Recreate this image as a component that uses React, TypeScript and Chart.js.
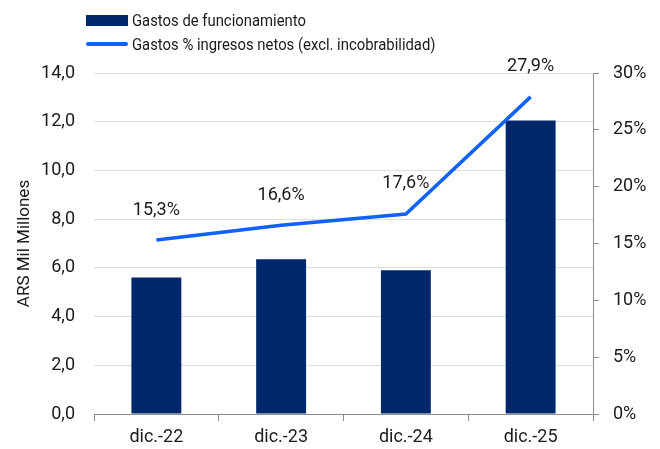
import React, { useEffect, useRef } from "react";
import { Chart, registerables } from "chart.js";

Chart.register(...registerables);

const categories = ["dic.-22", "dic.-23", "dic.-24", "dic.-25"];
const gastosFuncionamiento = [5.6, 6.35, 5.9, 12.05];
const gastosPctIngresos = [15.3, 16.6, 17.6, 27.9];
const barLabel = "Gastos de funcionamiento";
const lineLabel = "Gastos % ingresos netos (excl. incobrabilidad)";
const yTitle = "ARS Mil Millones";

const BAR_COLOR = "#00266b";
const LINE_COLOR = "#0f62fe";
const FONT = "Roboto, 'Liberation Sans', sans-serif";
const TEXT = "#1a1a1a";

const fmt = (v: number, d: number) => v.toFixed(d).replace(".", ",");

const lineLabelsPlugin = {
  id: "lineLabels",
  afterDatasetsDraw(chart: any) {
    const meta = chart.getDatasetMeta(1);
    const ctx = chart.ctx;
    ctx.save();
    ctx.font = `18px ${FONT}`;
    ctx.fillStyle = TEXT;
    ctx.textAlign = "center";
    ctx.textBaseline = "middle";
    meta.data.forEach((pt: any, i: number) => {
      ctx.fillText(fmt(gastosPctIngresos[i], 1) + "%", pt.x, pt.y - 30);
    });
    ctx.restore();
  },
};

export default function App() {
  const ref = useRef<HTMLCanvasElement>(null);
  useEffect(() => {
    const chart = new Chart(ref.current!, {
      type: "bar",
      data: {
        labels: categories,
        datasets: [
          {
            type: "bar",
            label: barLabel,
            data: gastosFuncionamiento,
            backgroundColor: BAR_COLOR,
            yAxisID: "y",
            categoryPercentage: 1,
            barPercentage: 0.4,
            order: 2,
          },
          {
            type: "line",
            label: lineLabel,
            data: gastosPctIngresos,
            borderColor: LINE_COLOR,
            backgroundColor: LINE_COLOR,
            borderWidth: 3.5,
            pointRadius: 0,
            tension: 0,
            yAxisID: "y1",
            order: 1,
          },
        ],
      },
      options: {
        animation: false,
        responsive: true,
        maintainAspectRatio: false,
        layout: { padding: { top: 73, left: 0, right: 0, bottom: 0 } },
        plugins: {
          legend: { display: false },
          tooltip: { enabled: false },
        },
        scales: {
          x: {
            offset: true,
            grid: {
              offset: true,
              drawOnChartArea: false,
              drawTicks: true,
              tickLength: 7,
              color: "#8c8c8c",
            },
            border: { display: true, color: "#8c8c8c" },
            ticks: {
              font: { family: FONT, size: 18 },
              color: TEXT,
              padding: 6,
            },
            afterFit: (s: any) => {
              s.height = 35;
            },
          },
          y: {
            position: "left",
            min: 0,
            max: 14,
            ticks: {
              stepSize: 2,
              font: { family: FONT, size: 18 },
              color: TEXT,
              padding: 19,
              callback: (v: any) => fmt(Number(v), 1),
            },
            grid: { color: "#dedede", drawTicks: false, lineWidth: 1 },
            border: { display: false },
            title: {
              display: true,
              text: yTitle,
              font: { family: FONT, size: 17 },
              color: TEXT,
              padding: { top: 15, bottom: 0 },
            },
            afterFit: (s: any) => {
              s.width = 94;
            },
          },
          y1: {
            position: "right",
            min: 0,
            max: 30,
            ticks: {
              stepSize: 5,
              font: { family: FONT, size: 18 },
              color: TEXT,
              padding: 14,
              callback: (v: any) => `${v}%`,
            },
            grid: {
              drawOnChartArea: false,
              drawTicks: true,
              tickLength: 6,
              color: "#8c8c8c",
            },
            border: { display: true, color: "#8c8c8c" },
            afterFit: (s: any) => {
              s.width = 67;
            },
          },
        },
      },
      plugins: [lineLabelsPlugin],
    });
    return () => chart.destroy();
  }, []);

  const textStyle: React.CSSProperties = {
    display: "inline-block",
    transform: "scaleX(0.9)",
    transformOrigin: "left center",
    whiteSpace: "nowrap",
  };

  return (
    <div
      style={{
        position: "fixed",
        left: 0,
        top: 0,
        width: 660,
        height: 449,
        background: "#fff",
        fontFamily: FONT,
      }}
    >
      <div
        style={{
          position: "absolute",
          left: 86,
          top: 10,
          display: "flex",
          flexDirection: "column",
          gap: 4,
          fontSize: 16.5,
          color: TEXT,
          zIndex: 1,
        }}
      >
        <div style={{ display: "flex", alignItems: "center", height: 20 }}>
          <span
            style={{
              display: "inline-block",
              width: 42,
              height: 11,
              background: BAR_COLOR,
              marginRight: 4,
            }}
          />
          <span style={textStyle}>{barLabel}</span>
        </div>
        <div style={{ display: "flex", alignItems: "center", height: 20 }}>
          <span
            style={{
              display: "inline-block",
              width: 42,
              height: 4,
              borderRadius: 2,
              background: LINE_COLOR,
              marginRight: 4,
            }}
          />
          <span style={textStyle}>{lineLabel}</span>
        </div>
      </div>
      <div style={{ position: "absolute", left: 0, top: 0, width: 660, height: 449 }}>
        <canvas ref={ref} />
      </div>
    </div>
  );
}
